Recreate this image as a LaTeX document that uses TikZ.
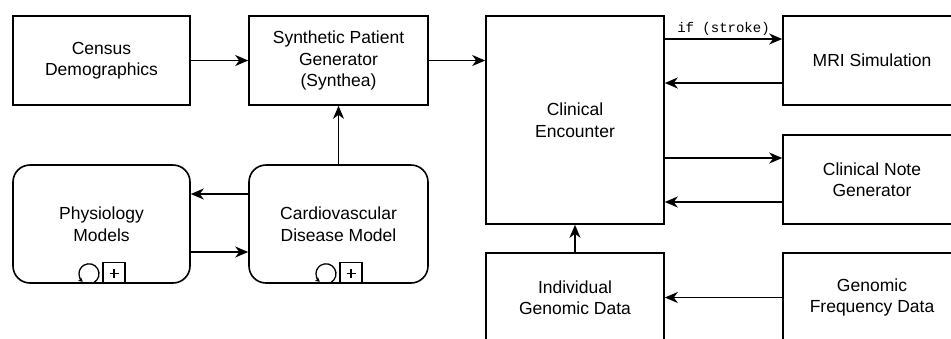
\documentclass[tikz,border=0pt]{standalone}
\usepackage{fontspec}
\setmainfont{Liberation Sans}
\setmonofont{Liberation Mono}
\usetikzlibrary{arrows.meta,calc}
\begin{document}
\begin{tikzpicture}[x=1pt,y=-1pt,
  line width=1.6pt,
  box/.style={draw, line width=1.6pt, minimum width=177pt, minimum height=89pt,
    align=center, inner sep=0pt, font=\fontsize{17.5}{21.5}\selectfont},
  subproc/.style={box, rounded corners=17pt, minimum height=118pt},
  arr/.style={-{Stealth[length=13pt,width=11pt,inset=4pt]}},
  loopmark/.style={-{Stealth[length=4.5pt,width=5pt]}, line width=1.3pt},
  cond/.style={font=\fontsize{14}{16}\ttfamily, inner sep=3pt}]
\useasboundingbox (0,0) rectangle (951,338);
\clip (0,0) rectangle (951,338);

% data sources and generator
\node[box] (census) at (101.5,60.5) {Census\\Demographics};
\node[box, minimum width=179pt] (synth) at (338.5,60.5) {Synthetic Patient\\Generator\\(Synthea)};

% disease and physiology sub-processes
\node[subproc] (phys) at (101.5,224) {Physiology\\Models};
\node[subproc, minimum width=179pt] (cardio) at (338.5,224) {Cardiovascular\\Disease Model};

% encounter and its services
\node[box, minimum width=178pt, minimum height=208pt] (enc) at (575,120) {Clinical\\Encounter};
\node[box, minimum width=178pt] (mri) at (872,60.5) {MRI Simulation};
\node[box, minimum width=178pt] (note) at (872,179.5) {Clinical Note\\Generator};
\node[box, minimum width=178pt] (ind) at (575,297.5) {Individual\\Genomic Data};
\node[box, minimum width=178pt] (freq) at (872,297.5) {Genomic\\Frequency Data};

% sub-process markers (loop + collapsed)
\foreach \n in {phys,cardio}{
  \draw[line width=1.3pt] ([xshift=1.5pt]\n.south) rectangle ++(22,-21);
  \draw[line width=1.2pt] ([xshift=12.5pt,yshift=10.5pt]\n.south) ++(-4.5,0) -- ++(9,0)
        ([xshift=12.5pt,yshift=10.5pt]\n.south) ++(0,-4.5) -- ++(0,9);
  \draw[loopmark] ($(\n.south)+(-12.5,-10)$) ++(-60:10pt)
        arc[start angle=-60, end angle=232, radius=10pt];
}

% flows
\draw[arr] (census) -- (synth);
\draw[arr] (synth.east) -- (synth.east -| enc.west);
\draw[arr] (cardio) -- (synth);
\draw[arr] ([yshift=30pt]cardio.west) -- ([yshift=30pt]cardio.west -| phys.east);
\draw[arr] ([yshift=-28pt]phys.east) -- ([yshift=-28pt]phys.east -| cardio.west);

\draw[arr] ([yshift=21.5pt]mri.west -| enc.east) -- node[cond, above] {if (stroke)} ([yshift=21.5pt]mri.west);
\draw[arr] ([yshift=-22.5pt]mri.west) -- ([yshift=-22.5pt]mri.west -| enc.east);
\draw[arr] ([yshift=21.5pt]note.west -| enc.east) -- ([yshift=21.5pt]note.west);
\draw[arr] ([yshift=-22.5pt]note.west) -- ([yshift=-22.5pt]note.west -| enc.east);

\draw[arr] (ind) -- (enc);
\draw[arr] (freq) -- (ind);
\end{tikzpicture}
\end{document}
